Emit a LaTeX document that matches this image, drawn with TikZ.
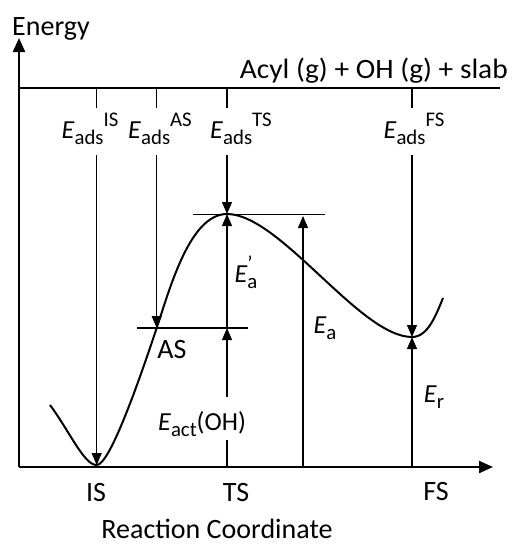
\documentclass[tikz,border=0pt]{standalone}
\usepackage{fontspec}
\setmainfont{Carlito}
\usetikzlibrary{arrows.meta}
\newcommand{\sbs}[1]{\raisebox{-0.26em}{\scalebox{0.8}{#1}}}
\newcommand{\sps}[1]{\raisebox{0.45em}{\scalebox{0.8}{#1}}}
\begin{document}
\begin{tikzpicture}[x=1pt,y=-1pt,
  thinln/.style={line width=1.1pt},
  tipln/.style={line width=1.1pt,-{Triangle[length=12pt,width=10pt]}},
  axisln/.style={line width=2.2pt,-{Triangle[length=14pt,width=12pt]}},
  lbl/.style={font=\fontsize{28}{32}\selectfont, inner sep=0pt, anchor=base},
  elbl/.style={font=\fontsize{26}{30}\selectfont, inner sep=0pt, anchor=base}]
\useasboundingbox (0,0) rectangle (512,544);
% key coordinates
\coordinate (O) at (19,467);
\coordinate (Ytop) at (19,38);
\coordinate (Xend) at (493,467);
\coordinate (L0) at (19,88);
\coordinate (L1) at (500,88);
\coordinate (IS) at (96.7,465);
\coordinate (AS) at (156.7,328);
\coordinate (TS) at (227,214);
\coordinate (FS) at (412,337);
\coordinate (EaX) at (303,216);
\coordinate (gapA) at (0,108);
\coordinate (gapB) at (0,155);
\coordinate (gapC) at (0,440);
\coordinate (gapD) at (0,397);
\coordinate (TSl) at (193,214.5);
\coordinate (TSr) at (325,214.5);
\coordinate (ASl) at (137,328);
\coordinate (ASr) at (248,328);
\coordinate (C0) at (50,405);
\coordinate (C9) at (443,298);
% axes
\draw[axisln] (O) -- (Ytop);
\draw[axisln] (O) -- (Xend);
\draw[thinln] (L0) -- (L1);
% curve
\draw[line width=2pt] (C0) .. controls (70,432) and (84,465) .. (IS)
  .. controls (110,465) and (140,378) .. (AS)
  .. controls (170,288) and (190,214) .. (TS)
  .. controls (280,214) and (360,337) .. (FS)
  .. controls (428,337) and (436,315) .. (C9);
% level lines
\draw[thinln] (TSl) -- (TSr);
\draw[thinln] (ASl) -- (ASr);
% adsorption energies
\draw[thinln] (IS |- L0) -- (IS |- gapA);
\draw[tipln] (IS |- gapB) -- (IS);
\draw[thinln] (AS |- L0) -- (AS |- gapA);
\draw[tipln] (AS |- gapB) -- (AS);
\draw[thinln] (TS |- L0) -- (TS |- gapA);
\draw[tipln] (TS |- gapB) -- (TS);
\draw[thinln] (FS |- L0) -- (FS |- gapA);
\draw[tipln] (FS |- gapB) -- (FS);
% barriers
\draw[tipln] (TS |- AS) -- (TS);
\draw[thinln] (TS |- O) -- (TS |- gapC);
\draw[tipln] (TS |- gapD) -- (TS |- AS);
\draw[tipln] (EaX |- O) -- (EaX);
\draw[tipln] (FS |- O) -- (FS);
% labels
\node[lbl, anchor=base west] (energy) at (12,35) {Energy};
\node[lbl, anchor=base east] (acyl) at (508,78) {\scalebox{1.05}[1]{Acyl (g) + OH (g) + slab}};
\node[elbl] (eIS) at (90,138) {\textit{E}\sbs{ads}\sps{IS}};
\node[elbl] (eAS) at (160,138) {\textit{E}\sbs{ads}\sps{AS}};
\node[elbl] (eTS) at (241,138) {\textit{E}\sbs{ads}\sps{TS}};
\node[elbl] (eFS) at (414,138) {\textit{E}\sbs{ads}\sps{FS}};
\node[elbl] (ea1) at (246,282) {\textit{E}\rlap{\sps{’}}\sbs{a}};
\node[elbl] (ea) at (325,333) {\textit{E}\sbs{a}};
\node[elbl] (er) at (434,402) {\textit{E}\sbs{r}};
\node[elbl] (eact) at (202,430) {\textit{E}\sbs{act}(OH)};
\node[lbl] (asl) at (172,358) {AS};
\node[lbl] (isl) at (96,501) {IS};
\node[lbl] (tsl) at (236,501) {TS};
\node[lbl] (fsl) at (436,500) {FS};
\node[lbl] (rc) at (217,538) {Reaction Coordinate};
\end{tikzpicture}
\end{document}
